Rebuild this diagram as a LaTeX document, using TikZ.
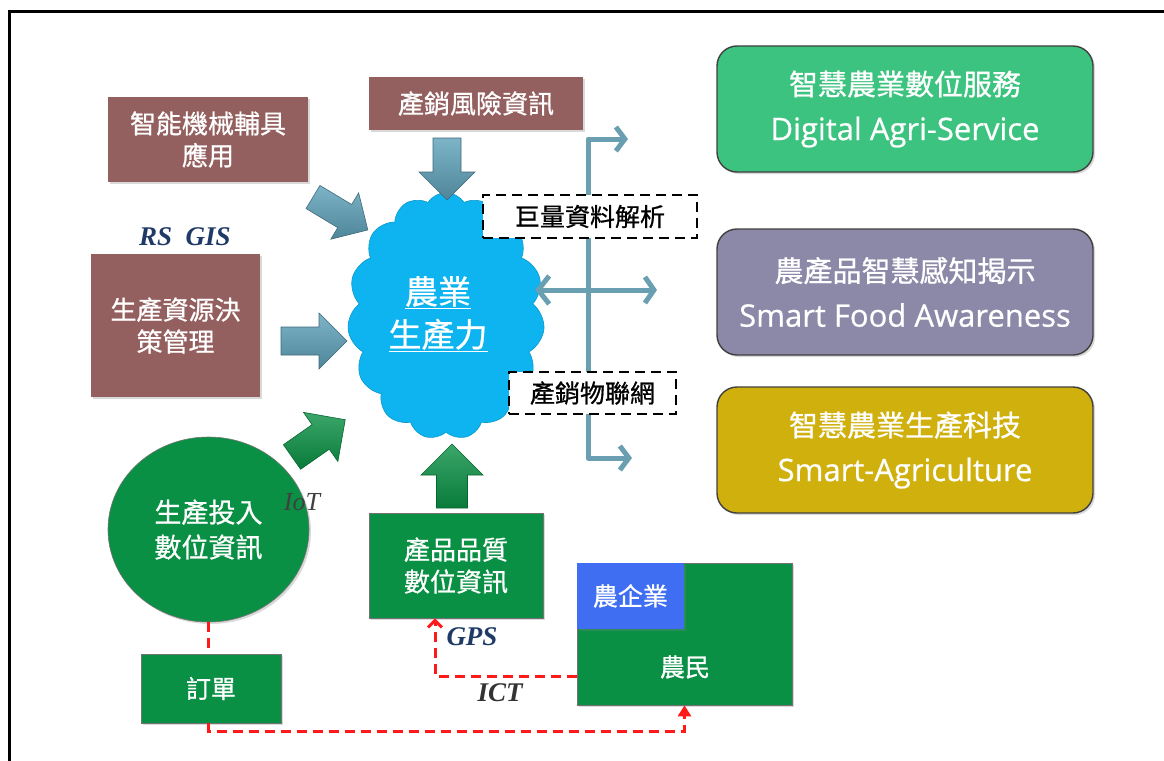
\documentclass[tikz,border=0pt]{standalone}
\usepackage{fontspec}
\setmainfont[FakeBold=0.6]{Open Sans}
\newfontfamily\cjk[FakeBold=0.8]{Noto Sans CJK TC}
\newfontfamily\tms{Liberation Serif}
\usetikzlibrary{arrows.meta,positioning,shapes.symbols,shapes.geometric,shadows,calc}
\definecolor{cBrown}{HTML}{94605F}
\definecolor{cGreen}{HTML}{0A9044}
\definecolor{cCyan}{HTML}{0DB4EF}
\definecolor{cTeal}{HTML}{6A9FB1}
\definecolor{cArrowHi}{HTML}{7DB4C7}
\definecolor{cArrowLo}{HTML}{4F8599}
\definecolor{cSvc}{HTML}{3DC380}
\definecolor{cFood}{HTML}{8C88A7}
\definecolor{cTech}{HTML}{CFB00C}
\definecolor{cCorp}{HTML}{3F6EF2}
\definecolor{cNavy}{HTML}{1F3A66}
\definecolor{cRed}{HTML}{FF1A1A}
\tikzset{
  infobox/.style={fill=cBrown,text=white,align=center,inner sep=0pt,
    font=\cjk\fontsize{26}{32}\selectfont,
    drop shadow={opacity=0.3,shadow xshift=2pt,shadow yshift=-2pt}},
  databox/.style={infobox,fill=cGreen,draw=black!55,line width=0.6pt},
  tagbox/.style={draw=black,dash pattern=on 10pt off 6pt,line width=2.8pt,fill=white,
    inner sep=0pt,font=\cjk\fontsize{25}{30}\selectfont},
  goalbox/.style={rounded corners=20pt,draw=black!75,line width=1.4pt,text=white,align=center,
    minimum width=376pt,minimum height=126pt,inner sep=0pt,font=\fontsize{31}{45}\selectfont,
    drop shadow={opacity=0.3,shadow xshift=2pt,shadow yshift=-2pt}},
  techlabel/.style={font=\tms\bfseries\itshape\fontsize{27}{30}\selectfont},
  feed/.style={cTeal,line width=5pt,line cap=round,line join=round},
  flowred/.style={cRed,line width=3pt,dash pattern=on 10pt off 6pt},
  bluearrow/.style={draw=cArrowLo!80!black,line width=0.6pt,top color=cArrowHi,bottom color=cArrowLo},
  greenarrow/.style={draw=cGreen!70!black,line width=0.6pt,top color=cGreen!80!white,bottom color=cGreen!85!black}
}
% block arrow: tail, angle, length, half shaft width
\newcommand{\fatarrow}[5][]{%
  \begin{scope}[shift={(#2)},rotate=#3]
    \path[#1] (0,-#5) -- (#4-2*#5,-#5) -- (#4-2*#5,-2*#5) -- (#4,0)
      -- (#4-2*#5,2*#5) -- (#4-2*#5,#5) -- (0,#5) -- cycle;
  \end{scope}}

\begin{document}
\begin{tikzpicture}[x=1pt,y=-1pt]
  \useasboundingbox (0,0) rectangle (1164,760);
  \draw[line width=3pt] (9.5,762) |- (1166,11.5);
  % inputs
  \node[infobox,minimum width=200pt,minimum height=85pt] (mach) at (208,139.5) {智能機械輔具\\應用};
  \node[infobox,minimum width=214pt,minimum height=53pt] (risk) at (476,103.5) {產銷風險資訊};
  \node[infobox,minimum width=169pt,minimum height=143pt] (res) at (175.5,325.5) {生產資源決\\策管理};
  \node[techlabel,text=cNavy] (rsgis) at (185,237) {RS\ \ GIS};
  % cloud
  \node[cloud,cloud puffs=15,cloud puff arc=115,cloud ignores aspect,minimum width=197pt,
    minimum height=247pt,fill=cCyan,draw=cCyan!85!black,line width=0.6pt] (cloud) at (446,316) {};
  \node[text=white,align=center,font=\cjk\fontsize{33}{43}\selectfont] (cloudtxt) at (438,314)
    {\underline{農業}\\\underline{生產力}};
  \fatarrow[bluearrow]{281,341}{0}{66}{14}
  \fatarrow[bluearrow]{313,197}{-31}{64}{13.5}
  \fatarrow[bluearrow]{447,138}{-90}{62}{14}
  % outputs
  \coordinate (toSvc) at (628,139);
  \coordinate (busTop) at (588,139);
  \coordinate (busBot) at (588,458);
  \coordinate (toTech) at (632,458);
  \coordinate (toCloud) at (535,290);
  \coordinate (toFood) at (657,290);
  \draw[feed,{Straight Barb[length=9pt,width=24pt]}-{Straight Barb[length=9pt,width=24pt]}]
    (toSvc) -- (busTop) -- (busBot) -- (toTech);
  \draw[feed,{Straight Barb[length=11pt,width=28pt]}-{Straight Barb[length=9pt,width=26pt]}]
    (toCloud) -- (toFood);
  \node[tagbox,minimum width=214pt,minimum height=43pt] (bigdata) at (590,216.5) {巨量資料解析};
  \node[tagbox,minimum width=167pt,minimum height=42pt] (iotnet) at (592.5,393) {產銷物聯網};
  \node[goalbox,fill=cSvc] (svc) at (905,109)
    {{\cjk\fontsize{29}{45}\selectfont 智慧農業數位服務}\\Digital Agri-Service};
  \node[goalbox,fill=cFood] (food) at (905,292)
    {{\cjk\fontsize{29}{45}\selectfont 農產品智慧感知揭示}\\Smart Food Awareness};
  \node[goalbox,fill=cTech] (tech) at (905,450)
    {{\cjk\fontsize{29}{45}\selectfont 智慧農業生產科技}\\Smart-Agriculture};
  % field data
  \node[databox,ellipse,minimum width=201pt,minimum height=185pt,
    font=\cjk\fontsize{27}{35}\selectfont] (input) at (208.5,529.5) {生產投入\\數位資訊};
  \node[databox,minimum width=174pt,minimum height=105pt] (qual) at (456,565.5) {產品品質\\數位資訊};
  \node[databox,minimum width=140pt,minimum height=69pt,font=\cjk\fontsize{25}{30}\selectfont] (order) at (211,688.5) {訂單};
  \node[databox,minimum width=215pt,minimum height=142pt] (farmer) at (684.5,634) {};
  \node[text=white,font=\cjk\fontsize{25}{30}\selectfont] (farmertxt) at (685,667) {農民};
  \node[infobox,fill=cCorp,anchor=north west,minimum width=107pt,minimum height=66pt,
    font=\cjk\fontsize{25}{30}\selectfont] (corp) at (farmer.north west) {農企業};
  \fatarrow[greenarrow]{292,457}{35}{65}{15}
  \fatarrow[greenarrow]{452,508}{90}{64}{15.5}
  \node[font=\tms\itshape\fontsize{26}{30}\selectfont,text=black!75] (iotlbl) at (302,502) {IoT};
  \node[techlabel,text=cNavy] (gps) at (472,637) {GPS};
  \node[techlabel,text=black!80] (ict) at (500,693) {ICT};
  % links
  \draw[flowred] (input.south) -- (input.south |- order.north);
  \draw[flowred,-{Triangle[length=11pt,width=13pt]}] (input.south |- order.south) -- ++(0,8) -| (farmer.south);
  \draw[flowred,-{Straight Barb[length=7pt,width=14pt]}] ([yshift=-42pt]farmer.west) -| ([xshift=-21pt]qual.south);
\end{tikzpicture}
\end{document}
